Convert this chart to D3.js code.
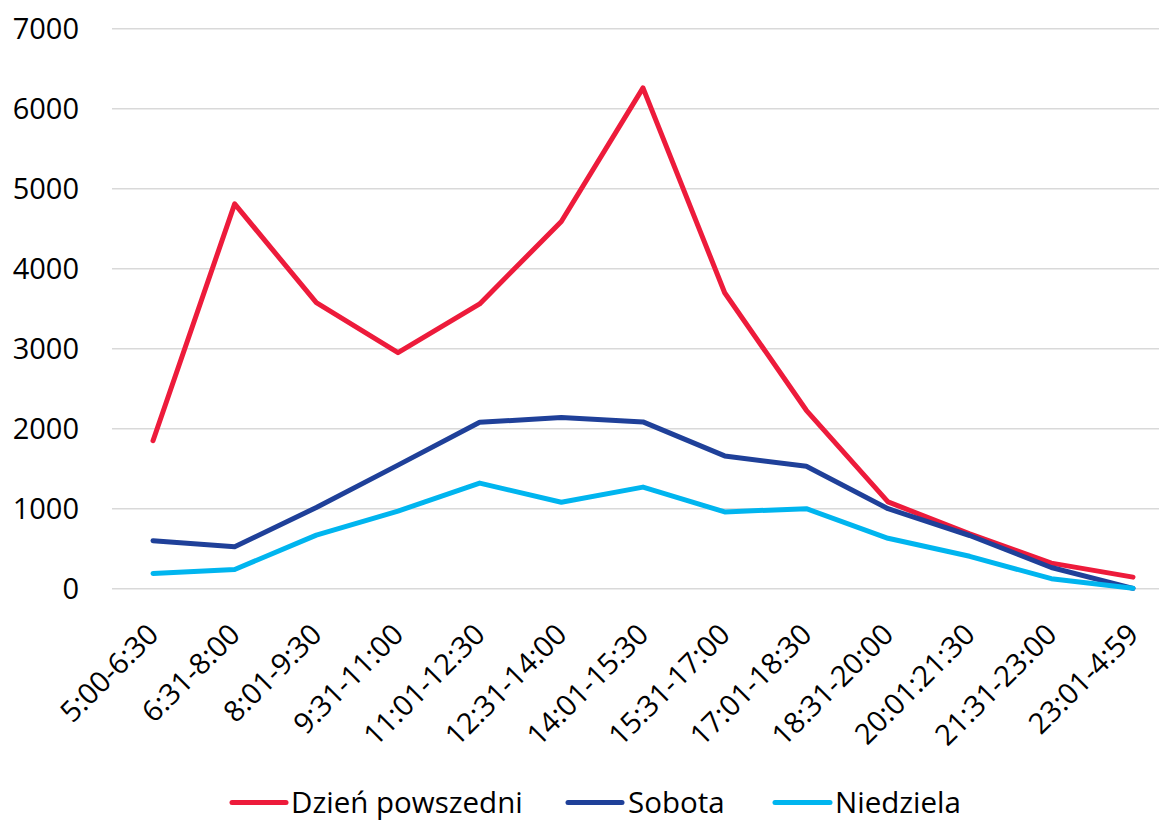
<!DOCTYPE html>
<html>
<head>
<meta charset="utf-8">
<script src="https://cdn.jsdelivr.net/npm/d3@7"></script>
<style>
  html, body { margin: 0; padding: 0; background: #fff; }
  svg { display: block; font-family: "Open Sans", "Noto Sans", sans-serif; }
</style>
</head>
<body>
<svg id="chart" width="1159" height="821"></svg>
<script>
const categories = ["5:00-6:30","6:31-8:00","8:01-9:30","9:31-11:00","11:01-12:30","12:31-14:00","14:01-15:30","15:31-17:00","17:01-18:30","18:31-20:00","20:01:21:30","21:31-23:00","23:01-4:59"];
const seriesNames = ["Dzień powszedni","Sobota","Niedziela"];
const dzienPowszedni = [1850, 4810, 3575, 2950, 3560, 4590, 6260, 3700, 2230, 1085, 685, 320, 145];
const sobota = [600, 525, 1015, 1545, 2080, 2140, 2085, 1660, 1530, 1000, 665, 265, 5];
const niedziela = [190, 240, 670, 970, 1320, 1080, 1270, 960, 1000, 630, 405, 125, 5];
const yTicks = [0, 1000, 2000, 3000, 4000, 5000, 6000, 7000];
const colors = ["#ED1B3B", "#1F4099", "#00B5EF"];

const svg = d3.select("#chart");
const gridLeft = 112, gridRight = 1159;
const x = d3.scalePoint().domain(categories).range([153, 1133]);
const y = d3.scaleLinear().domain([0, 7000]).range([588.7, 28.7]);

// gridlines
svg.append("g").selectAll("line").data(yTicks).join("line")
  .attr("x1", gridLeft).attr("x2", gridRight)
  .attr("y1", d => y(d)).attr("y2", d => y(d))
  .attr("stroke", "#d9d9d9").attr("stroke-width", 1.5);

// y axis labels
const yAxis = d3.axisLeft(y).tickValues(yTicks).tickSize(0).tickPadding(0).tickFormat(d3.format("d"));
const yg = svg.append("g").attr("transform", "translate(79,0)").call(yAxis);
yg.select(".domain").remove();
yg.selectAll("text").attr("font-size", 29).attr("fill", "#000")
  .attr("font-family", "'Open Sans', sans-serif").attr("dy", "0.35em");

// x axis labels
const xAxis = d3.axisBottom(x).tickSize(0).tickPadding(0);
const xg = svg.append("g").call(xAxis);
xg.select(".domain").remove();
xg.selectAll(".tick").attr("transform", d => `translate(${x(d)},629)`);
xg.selectAll("text")
  .attr("font-size", 29).attr("fill", "#000")
  .attr("font-family", "'Open Sans', sans-serif")
  .attr("text-anchor", "end")
  .attr("y", 0).attr("dy", "0.35em").attr("x", 0)
  .attr("transform", "rotate(-45)");

// lines
const data = [dzienPowszedni, sobota, niedziela];
const line = d3.line().x((d, i) => x(categories[i])).y(d => y(d));
svg.append("g").selectAll("path").data(data).join("path")
  .attr("d", d => line(d))
  .attr("fill", "none")
  .attr("stroke", (d, i) => colors[i])
  .attr("stroke-width", 5)
  .attr("stroke-linejoin", "round")
  .attr("stroke-linecap", "round");

// legend
const legendY = 802.5;
const legendItems = [
  {name: seriesNames[0], x1: 232, x2: 286, tx: 291},
  {name: seriesNames[1], x1: 568, x2: 622, tx: 628},
  {name: seriesNames[2], x1: 775, x2: 830, tx: 835}
];
const lg = svg.append("g");
legendItems.forEach((it, i) => {
  lg.append("line").attr("x1", it.x1).attr("x2", it.x2).attr("y1", legendY).attr("y2", legendY)
    .attr("stroke", colors[i]).attr("stroke-width", 5).attr("stroke-linecap", "round");
  lg.append("text").attr("x", it.tx).attr("y", legendY).attr("dy", "0.35em")
    .attr("font-size", 29.5).attr("fill", "#000").text(it.name);
});
</script>
</body>
</html>
